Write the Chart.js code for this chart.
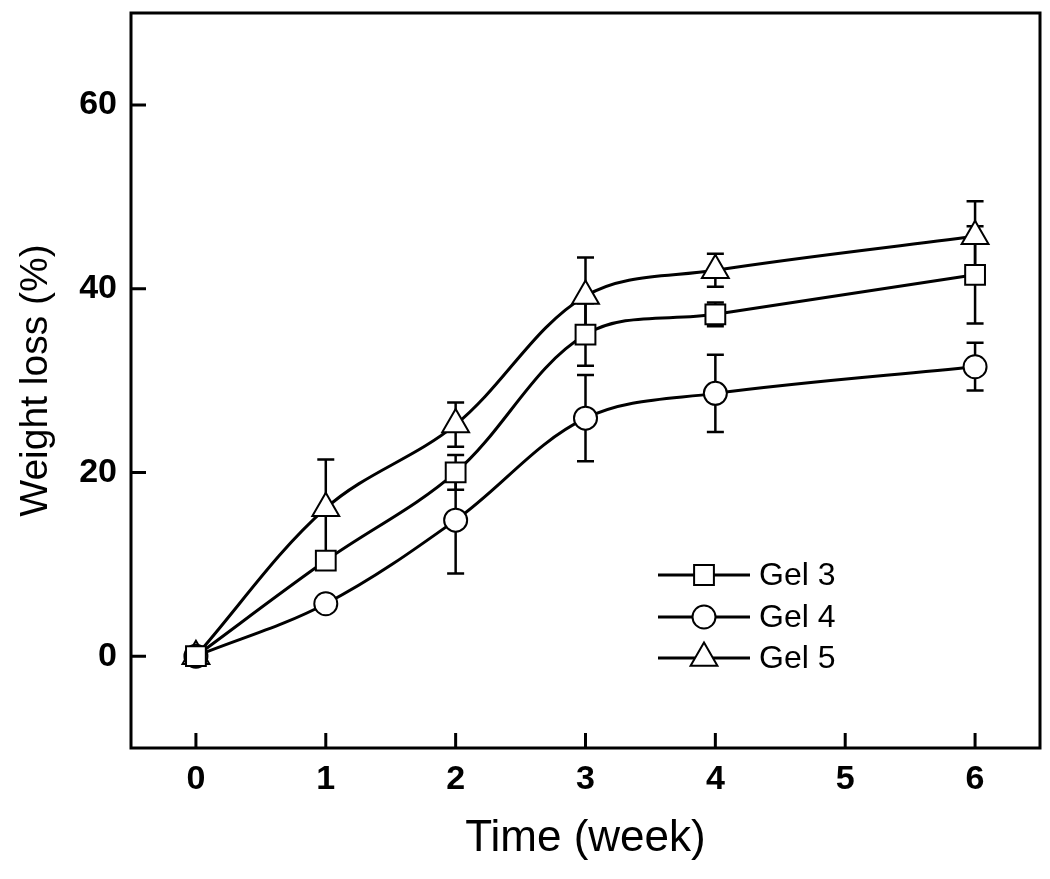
<!DOCTYPE html>
<html><head><meta charset="utf-8">
<script src="https://cdn.jsdelivr.net/npm/chart.js@4/dist/chart.umd.min.js"></script>
<style>html,body{margin:0;padding:0;background:#fff;}</style>
</head><body>
<canvas id="c" width="1050" height="879"></canvas>
<script>
// ---- data ----
const weeks = [0, 1, 2, 3, 4, 6];
const seriesNames = ['Gel 3', 'Gel 4', 'Gel 5'];
const gel3 = [0, 10.4, 20.0, 35.0, 37.2, 41.5];
const gel3Err = [0, 0.5, 1.9, 3.4, 1.3, 5.3];
const gel4 = [0, 5.7, 14.8, 25.9, 28.6, 31.5];
const gel4Err = [0, 0.8, 5.8, 4.7, 4.2, 2.6];
const gel5 = [0, 16.1, 25.2, 39.2, 42.0, 45.7];
const gel5Err = [0, 5.3, 2.4, 4.2, 1.8, 3.8];
const xTicks = [0, 1, 2, 3, 4, 5, 6];
const yTicks = [0, 20, 40, 60];
const xTitle = 'Time (week)';
const yTitle = 'Weight loss (%)';

const FONT = "'Liberation Sans', Arial, Helvetica, sans-serif";
const styles = [
  {pointStyle: 'rect', radius: 14},
  {pointStyle: 'circle', radius: 11.5},
  {pointStyle: 'triangle', radius: 15.5}
];
const values = [gel3, gel4, gel5];
const errors = [gel3Err, gel4Err, gel5Err];

function mk(i) {
  return {
    label: seriesNames[i],
    data: weeks.map((w, j) => ({x: w, y: values[i][j]})),
    errors: errors[i],
    borderColor: '#000',
    borderWidth: 3,
    pointStyle: styles[i].pointStyle,
    pointRadius: styles[i].radius,
    pointBorderWidth: 2,
    pointBackgroundColor: '#fff',
    pointBorderColor: '#000',
    tension: 0.35,
    fill: false
  };
}

function drawMarker(ctx, style, r, x, y) {
  ctx.beginPath();
  if (style === 'rect') {
    const s = Math.SQRT1_2 * r;
    ctx.rect(x - s, y - s, 2 * s, 2 * s);
  } else if (style === 'circle') {
    ctx.arc(x, y, r, 0, Math.PI * 2);
  } else {
    const a = 2 * Math.PI / 3;
    ctx.moveTo(x, y - r);
    ctx.lineTo(x + Math.sin(a) * r, y - Math.cos(a) * r);
    ctx.lineTo(x + Math.sin(2 * a) * r, y - Math.cos(2 * a) * r);
    ctx.closePath();
  }
  ctx.fillStyle = '#fff';
  ctx.fill();
  ctx.lineWidth = 2;
  ctx.strokeStyle = '#000';
  ctx.stroke();
}

const errorBars = {
  id: 'errorBars',
  beforeDatasetsDraw(chart) {
    const ctx = chart.ctx, ys = chart.scales.y, xs = chart.scales.x;
    ctx.save();
    ctx.strokeStyle = '#000';
    ctx.lineWidth = 2.5;
    chart.data.datasets.forEach(ds => {
      ds.data.forEach((p, j) => {
        const e = ds.errors[j];
        if (!e) return;
        const px = xs.getPixelForValue(p.x);
        const y1 = ys.getPixelForValue(p.y + e), y2 = ys.getPixelForValue(p.y - e);
        ctx.beginPath();
        ctx.moveTo(px, y1); ctx.lineTo(px, y2);
        ctx.moveTo(px - 8.5, y1); ctx.lineTo(px + 8.5, y1);
        ctx.moveTo(px - 8.5, y2); ctx.lineTo(px + 8.5, y2);
        ctx.stroke();
      });
    });
    ctx.restore();
  }
};

const frame = {
  id: 'frame',
  afterDraw(chart) {
    const ctx = chart.ctx, a = chart.chartArea, xs = chart.scales.x, ys = chart.scales.y;
    ctx.save();
    ctx.strokeStyle = '#000';
    ctx.lineWidth = 3;
    ctx.strokeRect(a.left, a.top, a.right - a.left, a.bottom - a.top);
    ctx.beginPath();
    xTicks.forEach(v => {
      const px = xs.getPixelForValue(v);
      ctx.moveTo(px, a.bottom); ctx.lineTo(px, a.bottom - 15);
    });
    yTicks.forEach(v => {
      const py = ys.getPixelForValue(v);
      ctx.moveTo(a.left, py); ctx.lineTo(a.left + 15, py);
    });
    ctx.stroke();
    // legend
    const offs = [562, 604, 645];
    chart.data.datasets.forEach((ds, i) => {
      const y = a.top + offs[i];
      const x0 = a.left + 527, x1 = a.left + 619, xm = (x0 + x1) / 2;
      ctx.beginPath();
      ctx.lineWidth = 3;
      ctx.moveTo(x0, y); ctx.lineTo(x1, y);
      ctx.stroke();
      drawMarker(ctx, ds.pointStyle, ds.pointRadius, xm, y);
      ctx.fillStyle = '#000';
      ctx.font = '32px ' + FONT;
      ctx.textBaseline = 'middle';
      ctx.textAlign = 'left';
      ctx.fillText(ds.label, a.left + 628, y + 1);
    });
    ctx.restore();
  }
};

const noPad = () => ({left: 0, top: 0, right: 0, bottom: 0});

new Chart(document.getElementById('c'), {
  type: 'line',
  data: {datasets: [mk(0), mk(1), mk(2)]},
  options: {
    responsive: false,
    animation: false,
    devicePixelRatio: 1,
    layout: {autoPadding: false, padding: {left: 0, right: 10, top: 13, bottom: 0}},
    plugins: {legend: {display: false}, tooltip: {enabled: false}},
    scales: {
      x: {
        type: 'linear', min: -0.5, max: 6.5,
        afterBuildTicks: s => { s.ticks = xTicks.map(v => ({value: v})); },
        afterFit: s => { s.height = 131; s.paddingLeft = 0; s.paddingRight = 0; s.getPadding = noPad; },
        grid: {display: false, drawTicks: false},
        border: {display: false},
        ticks: {font: {family: FONT, size: 34, weight: 'bold'}, color: '#000', padding: 11, maxRotation: 0, autoSkip: false},
        title: {display: true, text: xTitle, font: {family: FONT, size: 44, lineHeight: 1.2}, color: '#000', padding: {top: 0, bottom: 14}}
      },
      y: {
        type: 'linear', min: -10, max: 70,
        afterBuildTicks: s => { s.ticks = yTicks.map(v => ({value: v})); },
        afterFit: s => { s.width = 131; s.paddingTop = 0; s.paddingBottom = 0; s.getPadding = noPad; },
        grid: {display: false, drawTicks: false},
        border: {display: false},
        ticks: {font: {family: FONT, size: 34, weight: 'bold'}, color: '#000', padding: 14, autoSkip: false},
        title: {display: true, text: yTitle, font: {family: FONT, size: 39, lineHeight: 1.2}, color: '#000', padding: {top: 13, bottom: 0}}
      }
    }
  },
  plugins: [errorBars, frame]
});
</script>
</body></html>
